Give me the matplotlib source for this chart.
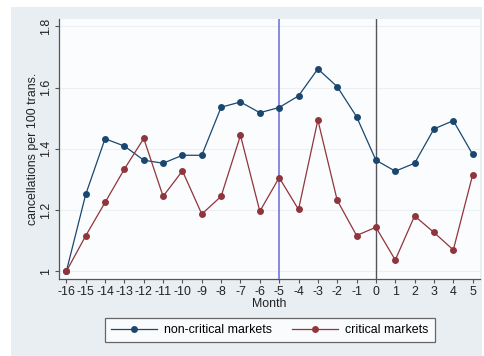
import matplotlib
matplotlib.use("Agg")
import matplotlib.pyplot as plt
from matplotlib.patches import Rectangle

plt.rcParams['font.family'] = ['Liberation Sans', 'DejaVu Sans']

months = list(range(-16, 6))
non_critical = [1.000, 1.251, 1.433, 1.409, 1.363, 1.353, 1.379, 1.379, 1.536, 1.553,
                1.518, 1.535, 1.573, 1.661, 1.603, 1.505, 1.363, 1.327, 1.353, 1.465,
                1.492, 1.382]
critical = [1.000, 1.116, 1.225, 1.334, 1.434, 1.245, 1.328, 1.187, 1.245, 1.444,
            1.196, 1.306, 1.202, 1.494, 1.232, 1.117, 1.144, 1.037, 1.181, 1.127,
            1.070, 1.315]
y_ticks = [1, 1.2, 1.4, 1.6, 1.8]
y_tick_labels = ["1", "1.2", "1.4", "1.6", "1.8"]
event_lines = [-5, 0]

W, H = 485, 356
fs = 8.9
fig = plt.figure(figsize=(W / 100, H / 100), dpi=100, facecolor="white")

# light grey-blue panel behind the plot region
bg_left, bg_right, bg_top = 11, 482, 7
fig.patches.append(Rectangle((bg_left / W, 0), (bg_right - bg_left) / W, 1 - bg_top / H,
                             transform=fig.transFigure, facecolor="#e8eef2",
                             edgecolor="none", zorder=-10))

ax = fig.add_axes([59 / W, (H - 279) / H, (480 - 59) / W, (279 - 19) / H])
ax.set_zorder(1)
ax.set_facecolor("#fbfcfd")

blue = "#1a476f"
red = "#90353b"

for yv in y_ticks:
    ax.axhline(yv, color="#eaf0f3", lw=0.8, zorder=1)

ax.axvline(event_lines[0], color="#7f7fe0", lw=1.3, zorder=2)
ax.axvline(event_lines[1], color="#555555", lw=1.0, zorder=2)

ax.plot(months, non_critical, color=blue, lw=0.9, marker="o", ms=5.0,
        markeredgewidth=0, label="non-critical markets", zorder=3)
ax.plot(months, critical, color=red, lw=0.9, marker="o", ms=5.0,
        markeredgewidth=0, label="critical markets", zorder=3)

ax.set_xlim(-16.38, 5.38)
ax.set_ylim(0.975, 1.824)
ax.set_xticks(months)
ax.set_xticklabels([str(m) for m in months], fontsize=fs, color="#222222")
ax.set_yticks(y_ticks)
ax.set_yticklabels(y_tick_labels, fontsize=fs, color="#222222", rotation=90, va="center")
ax.tick_params(axis="both", direction="out", length=3, width=0.8, color="#555555", pad=2)

for side in ["top", "right"]:
    ax.spines[side].set_visible(False)
for side in ["left", "bottom"]:
    ax.spines[side].set_color("#555555")
    ax.spines[side].set_linewidth(0.9)

ax.set_xlabel("Month", fontsize=fs, color="#222222", labelpad=0)
ax.set_ylabel("cancellations per 100 trans.", fontsize=fs, color="#222222", labelpad=1)

leg = fig.legend(loc="center", bbox_to_anchor=(270 / W, 1 - 330 / H), ncol=2,
                 frameon=True, fancybox=False, fontsize=fs, handlelength=3.7,
                 columnspacing=1.6, borderpad=0.5, handletextpad=0.6)
leg.set_zorder(2)
leg.get_frame().set_edgecolor("#444444")
leg.get_frame().set_linewidth(0.9)
leg.get_frame().set_facecolor("white")

fig.savefig("out.png", dpi=100, facecolor=fig.get_facecolor())
